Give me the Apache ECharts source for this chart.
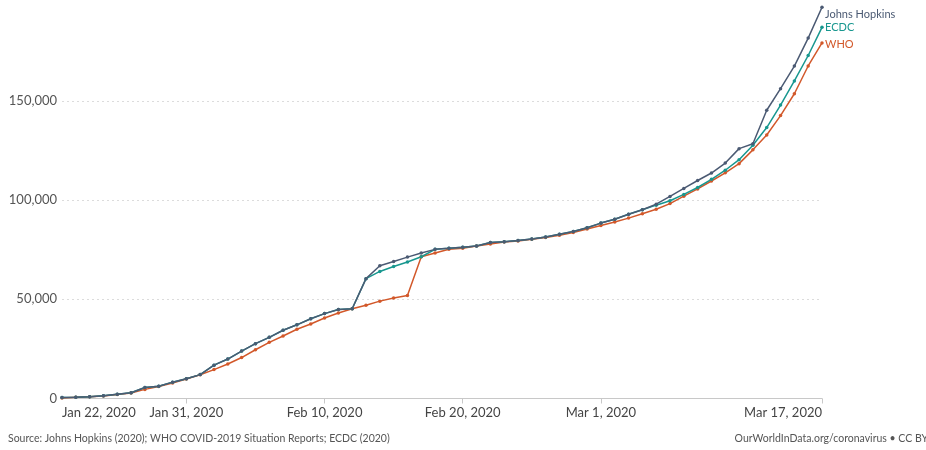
<!DOCTYPE html>
<html>
<head>
<meta charset="utf-8">
<script src="https://cdn.jsdelivr.net/npm/echarts@6/dist/echarts.min.js"></script>
<style>
html,body{margin:0;padding:0;background:#fff;}
#chart{width:926px;height:450px;}
</style>
</head>
<body>
<div id="chart"></div>
<script>
// Dates Jan 22, 2020 .. Mar 17, 2020 (56 days)
const startDate = new Date(Date.UTC(2020, 0, 22));
const dayCount = 56;
const monthNames = ["Jan","Feb","Mar","Apr","May","Jun","Jul","Aug","Sep","Oct","Nov","Dec"];
const categories = [];
for (let i = 0; i < dayCount; i++) {
  const d = new Date(startDate.getTime() + i * 86400000);
  categories.push(monthNames[d.getUTCMonth()] + " " + d.getUTCDate() + ", " + d.getUTCFullYear());
}
const labelledCategories = ["Jan 22, 2020", "Jan 31, 2020", "Feb 10, 2020", "Feb 20, 2020", "Mar 1, 2020", "Mar 17, 2020"];

const johnsHopkins = [555, 654, 941, 1434, 2118, 2927, 5578, 6166, 8234, 9927,
  12038, 16787, 19881, 23892, 27635, 30794, 34391, 37120, 40150, 42762,
  44802, 45221, 60368, 66885, 69030, 71224, 73258, 75136, 75639, 76197,
  76819, 78572, 78958, 79561, 80406, 81388, 82746, 84112, 86011, 88369,
  90306, 92840, 95120, 97886, 101801, 105847, 109821, 113590, 118620, 125875,
  128352, 145205, 156101, 167454, 181574, 197102];

const ecdc = [555, 654, 941, 1434, 2118, 2927, 5578, 6166, 8234, 9927,
  12038, 16787, 19881, 23892, 27635, 30794, 34391, 37120, 40150, 42762,
  44802, 45221, 60368, 64000, 66500, 68800, 71400, 75136, 75639, 76197,
  76819, 78572, 78958, 79561, 80406, 81388, 82746, 84112, 86011, 88369,
  90306, 92840, 95120, 97400, 99600, 102800, 106300, 110400, 115000, 120300,
  127600, 136500, 147800, 160000, 172800, 187000];

const who = [314, 581, 846, 1320, 2014, 2798, 4593, 6065, 7818, 9826,
  11953, 14557, 17391, 20630, 24554, 28276, 31481, 34886, 37558, 40554,
  43103, 45171, 46997, 49053, 50580, 51857, 71429, 73332, 75204, 75748,
  76769, 77794, 78811, 79331, 80239, 81109, 82294, 83652, 85403, 87137,
  88948, 90870, 93090, 95324, 98192, 101927, 105586, 109577, 113702, 118319,
  125260, 132758, 142539, 153517, 167515, 179111];

const yTicks = [0, 50000, 100000, 150000];

const colors = { jh: "#4b5a73", ecdc: "#18978f", who: "#d2582a" };
const FONT = "Lato, 'Noto Sans', sans-serif";

const showIdx = (idx) => labelledCategories.indexOf(categories[idx]) >= 0;

function mkSeries(name, data, color, offsetY) {
  return {
    name: name,
    type: "line",
    data: data,
    symbol: "circle",
    symbolSize: 3.5,
    showAllSymbol: true,
    lineStyle: { width: 1.5, color: color },
    itemStyle: { color: color },
    emphasis: { disabled: true },
    animation: false,
    endLabel: {
      show: true,
      formatter: name,
      color: color,
      fontFamily: FONT,
      fontSize: 11,
      distance: 3,
      offset: [0, offsetY]
    }
  };
}

const chart = echarts.init(document.getElementById("chart"), null, { renderer: "canvas" });
chart.setOption({
  animation: false,
  backgroundColor: "#ffffff",
  grid: { left: 62, right: 104, top: 1.5, bottom: 51.5, containLabel: false },
  xAxis: {
    type: "category",
    data: categories,
    boundaryGap: false,
    axisLine: { show: true, lineStyle: { color: "#c8c8c8", width: 1 } },
    axisTick: { show: true, interval: (i) => showIdx(i) && i !== 0, length: 5, lineStyle: { color: "#c8c8c8" } },
    axisLabel: {
      interval: (i) => showIdx(i),
      color: "#444",
      fontFamily: FONT,
      fontSize: 13,
      margin: 8,
      alignMinLabel: "left",
      alignMaxLabel: "right"
    },
    splitLine: { show: false }
  },
  yAxis: {
    type: "value",
    min: 0,
    max: 200000,
    interval: 50000,
    axisLine: { show: false },
    axisTick: { show: false },
    axisLabel: {
      color: "#555",
      fontFamily: FONT,
      fontSize: 13,
      margin: 5,
      showMaxLabel: false,
      formatter: (v) => yTicks.indexOf(v) >= 0 ? v.toLocaleString("en-US") : ""
    },
    splitLine: { show: true, showMinLine: false, showMaxLine: false, lineStyle: { color: "#dcdcdc", type: [2, 3], width: 1 } }
  },
  series: [
    mkSeries("WHO", who, colors.who, 1),
    mkSeries("ECDC", ecdc, colors.ecdc, 0),
    mkSeries("Johns Hopkins", johnsHopkins, "#4b5a73", 7)
  ],
  graphic: [
    { type: "text", left: 8, top: 433, style: { text: "Source: Johns Hopkins (2020); WHO COVID-2019 Situation Reports; ECDC (2020)", fill: "#555", font: "10.5px " + FONT } },
    { type: "text", right: -2, top: 433, style: { text: "OurWorldInData.org/coronavirus • CC BY", fill: "#555", font: "10.5px " + FONT } }
  ]
});
</script>
</body>
</html>
